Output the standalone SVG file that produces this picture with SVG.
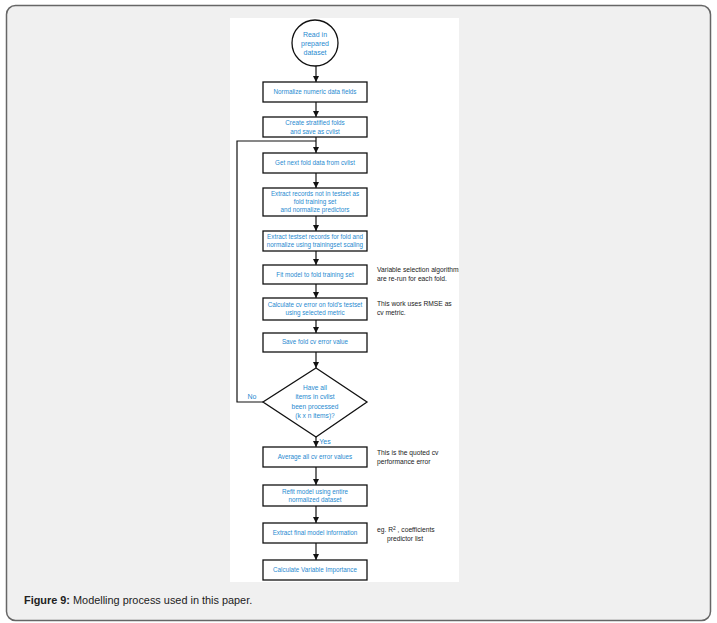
<svg xmlns="http://www.w3.org/2000/svg" width="717" height="623" viewBox="0 0 717 623">
<defs>
<style>
.box{fill:#fff;stroke:#111;stroke-width:1.3}
.t{font-family:"Liberation Sans",Arial,sans-serif;font-size:6.3px;fill:#1f8ad0;text-anchor:middle}
.s{font-family:"Liberation Sans",Arial,sans-serif;font-size:6.7px;fill:#222}
.c{fill:none;stroke:#111;stroke-width:1.2}
</style>
<marker id="ah" viewBox="0 0 10 10" refX="10" refY="5" markerWidth="5" markerHeight="5" orient="auto">
<path d="M0,0 L10,5 L0,10 z" fill="#111"/>
</marker>
<clipPath id="panel"><rect x="230" y="18" width="229" height="564"/></clipPath>
</defs>
<rect x="6.5" y="5.5" width="704" height="615" rx="9" fill="#f0f0f0" stroke="#666" stroke-width="1.5"/>
<rect x="230" y="18" width="229" height="564" fill="#fff"/>

<g id="connectors">
<line class="c" x1="316" y1="66" x2="316" y2="82" marker-end="url(#ah)"/>
<line class="c" x1="316" y1="102" x2="316" y2="117" marker-end="url(#ah)"/>
<line class="c" x1="316" y1="137" x2="316" y2="153" marker-end="url(#ah)"/>
<line class="c" x1="316" y1="173" x2="316" y2="188" marker-end="url(#ah)"/>
<line class="c" x1="316" y1="216" x2="316" y2="231" marker-end="url(#ah)"/>
<line class="c" x1="316" y1="251" x2="316" y2="265" marker-end="url(#ah)"/>
<line class="c" x1="316" y1="284" x2="316" y2="298" marker-end="url(#ah)"/>
<line class="c" x1="316" y1="320" x2="316" y2="333" marker-end="url(#ah)"/>
<line class="c" x1="316" y1="352" x2="316" y2="368" marker-end="url(#ah)"/>
<line class="c" x1="316" y1="437" x2="316" y2="447" marker-end="url(#ah)"/>
<line class="c" x1="316" y1="467" x2="316" y2="485" marker-end="url(#ah)"/>
<line class="c" x1="316" y1="506" x2="316" y2="523" marker-end="url(#ah)"/>
<line class="c" x1="316" y1="543" x2="316" y2="560" marker-end="url(#ah)"/>
<polyline class="c" points="263,402 237,402 237,141 316,141"/>
<text class="t" x="252" y="399" style="font-size:7px">No</text>
<text class="t" x="325" y="444" style="font-size:7px">Yes</text>
</g>

<g id="n0">
<circle cx="315" cy="43" r="23" fill="#fff" stroke="#111" stroke-width="1.3"/>
<text class="t" x="315" y="37" style="font-size:7px">Read in</text>
<text class="t" x="315" y="46" style="font-size:7px">prepared</text>
<text class="t" x="315" y="55" style="font-size:7px">dataset</text>
</g>
<g id="n1">
<rect class="box" x="263" y="82" width="104" height="20"/>
<text class="t" x="315" y="94">Normalize numeric data fields</text>
</g>
<g id="n2">
<rect class="box" x="263" y="117" width="104" height="20"/>
<text class="t" x="315" y="125">Create stratified folds</text>
<text class="t" x="315" y="134">and save as cvlist</text>
</g>
<g id="n3">
<rect class="box" x="263" y="153" width="104" height="20"/>
<text class="t" x="315" y="165">Get next fold data from cvlist</text>
</g>
<g id="n4">
<rect class="box" x="263" y="188" width="104" height="28"/>
<text class="t" x="315" y="196">Extract records not in testset as</text>
<text class="t" x="315" y="204">fold training set</text>
<text class="t" x="315" y="212">and normalize predictors</text>
</g>
<g id="n5">
<rect class="box" x="263" y="231" width="104" height="20"/>
<text class="t" x="315" y="239">Extract testset records for fold and</text>
<text class="t" x="315" y="247">normalize using trainingset scaling</text>
</g>
<g id="n6">
<rect class="box" x="263" y="265" width="104" height="19"/>
<text class="t" x="315" y="277">Fit model to fold training set</text>
<g clip-path="url(#panel)">
<text class="s" x="377" y="272">Variable selection algorithms</text>
<text class="s" x="377" y="281">are re-run for each fold.</text>
</g>
</g>
<g id="n7">
<rect class="box" x="263" y="298" width="104" height="22"/>
<text class="t" x="315" y="307">Calculate cv error on fold's testset</text>
<text class="t" x="315" y="315">using selected metric</text>
<text class="s" x="377" y="306">This work uses RMSE as</text>
<text class="s" x="377" y="315">cv metric.</text>
</g>
<g id="n8">
<rect class="box" x="263" y="333" width="104" height="19"/>
<text class="t" x="315" y="344">Save fold cv error value</text>
</g>
<g id="n9">
<polygon points="316,368 367,402 316,437 263,402" fill="#fff" stroke="#111" stroke-width="1.3"/>
<text class="t" x="315" y="390" style="font-size:6.6px">Have all</text>
<text class="t" x="315" y="399" style="font-size:6.6px">items in cvlist</text>
<text class="t" x="315" y="409" style="font-size:6.6px">been processed</text>
<text class="t" x="315" y="418" style="font-size:6.6px">(k x n items)?</text>
</g>
<g id="n10">
<rect class="box" x="263" y="447" width="104" height="20"/>
<text class="t" x="315" y="459">Average all cv error values</text>
<text class="s" x="377" y="455">This is the quoted cv</text>
<text class="s" x="377" y="464">performance error</text>
</g>
<g id="n11">
<rect class="box" x="263" y="485" width="104" height="21"/>
<text class="t" x="315" y="494">Refit model using entire</text>
<text class="t" x="315" y="502">normalized dataset</text>
</g>
<g id="n12">
<rect class="box" x="263" y="523" width="104" height="20"/>
<text class="t" x="315" y="535">Extract final model information</text>
<text class="s" x="377" y="532">eg. R<tspan dy="-2" font-size="5">2</tspan><tspan dy="2"> , coefficients</tspan></text>
<text class="s" x="387" y="541">predictor list</text>
</g>
<g id="n13">
<rect class="box" x="263" y="560" width="104" height="20"/>
<text class="t" x="315" y="572">Calculate Variable Importance</text>
</g>
<text x="24" y="604" font-family="'Liberation Sans',Arial,sans-serif" font-size="10.9" fill="#222"><tspan font-weight="bold">Figure 9:</tspan> Modelling process used in this paper.</text>
</svg>
